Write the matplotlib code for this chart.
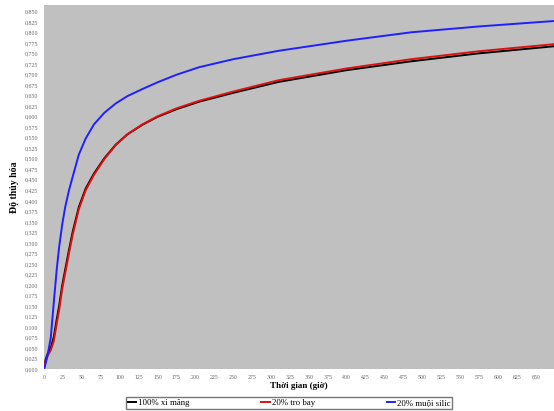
import matplotlib
matplotlib.use("Agg")
import matplotlib.pyplot as plt
from matplotlib.ticker import MultipleLocator, FuncFormatter

# thoi gian (gio)
time_h = [0, 2, 5, 9, 13, 17, 20, 24, 28, 33, 38, 46, 55, 66, 80, 95, 110,
          130, 150, 175, 205, 250, 310, 400, 485, 575, 675]

# do thuy hoa
xi_mang = [0, 0.022, 0.037, 0.05, 0.077, 0.12, 0.15, 0.198, 0.236, 0.283, 0.327,
           0.385, 0.429, 0.465, 0.502, 0.534, 0.558, 0.581, 0.600, 0.618, 0.636,
           0.657, 0.683, 0.711, 0.732, 0.751, 0.768]
tro_bay = [0, 0.018, 0.032, 0.045, 0.067, 0.11, 0.14, 0.19, 0.228, 0.275, 0.32,
           0.38, 0.425, 0.462, 0.5, 0.533, 0.558, 0.582, 0.601, 0.62, 0.638,
           0.660, 0.687, 0.715, 0.737, 0.756, 0.773]
muoi_silic = [0, 0.012, 0.035, 0.075, 0.16, 0.24, 0.29, 0.343, 0.385, 0.425, 0.458,
              0.51, 0.548, 0.582, 0.61, 0.632, 0.649, 0.666, 0.682, 0.700, 0.718,
              0.737, 0.757, 0.781, 0.801, 0.815, 0.828]

labels = ["100% xi măng", "20% tro bay", "20% muội silic"]
colors = ["black", "#e01010", "#2020ff"]

plt.rcParams['font.family'] = ['Liberation Serif', 'DejaVu Serif']

fig = plt.figure(figsize=(5.54, 4.11), dpi=100)
ax = fig.add_axes([44 / 554, 1 - 369 / 411, 1 - 44 / 554, 364 / 411])
ax.set_facecolor('#c0c0c0')

for vals, lab, col in zip([xi_mang, tro_bay, muoi_silic], labels, colors):
    ax.plot(time_h, vals, color=col, lw=1.4, label=lab, solid_joinstyle='round')

ax.set_xlim(0, 674)
ax.set_ylim(0, 0.866)
ax.xaxis.set_major_locator(MultipleLocator(25))
ax.yaxis.set_major_locator(MultipleLocator(0.025))
ax.yaxis.set_major_formatter(FuncFormatter(lambda v, p: f"{v:.3f}".replace('.', ',')))
ax.tick_params(length=0, labelsize=4.2, labelcolor='#666666', pad=4)
for s in ax.spines.values():
    s.set_visible(False)

ax.set_xlabel("Thời gian (giờ)", fontsize=6.5, fontweight='bold', labelpad=2)
ax.set_ylabel("Độ thủy hóa", fontsize=7, fontweight='bold', labelpad=4)

fig.legend(loc='center', bbox_to_anchor=(289 / 554, 1 - 403 / 411), ncol=3,
           fontsize=6.3, frameon=True, fancybox=False, edgecolor='#555555',
           handlelength=1.0, handletextpad=0.2, columnspacing=8.2,
           borderpad=0.2)

fig.savefig("out.png", dpi=100)
